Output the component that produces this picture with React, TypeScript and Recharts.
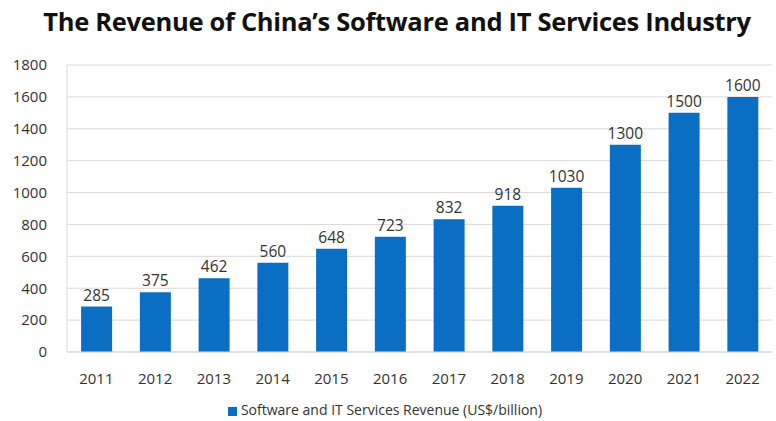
import { Bar, BarChart, CartesianGrid, LabelList, Legend, XAxis, YAxis } from "recharts";

const years = ["2011", "2012", "2013", "2014", "2015", "2016", "2017", "2018", "2019", "2020", "2021", "2022"];
const revenue = [285, 375, 462, 560, 648, 723, 832, 918, 1030, 1300, 1500, 1600];
const yTicks = [0, 200, 400, 600, 800, 1000, 1200, 1400, 1600, 1800];

const data = years.map((year, i) => ({ year, revenue: revenue[i] }));

const FONT = "'Open Sans', 'Noto Sans', sans-serif";

export default function App() {
  return (
    <div style={{ position: "absolute", left: 0, top: 0, width: 776, height: 421, background: "#fff", fontFamily: FONT }}>
      <div
        style={{
          position: "absolute",
          top: 4,
          left: 9,
          width: 776,
          textAlign: "center",
          fontSize: 25.5,
          fontWeight: 700,
          color: "#111",
          letterSpacing: "-0.3px",
        }}
      >
        The Revenue of China’s Software and IT Services Industry
      </div>
      <BarChart
        width={776}
        height={421}
        data={data}
        margin={{ top: 65, right: 4, bottom: 2, left: 8 }}
        barCategoryGap="24%"
      >
        <CartesianGrid vertical={false} stroke="#d9d9d9" />
        <XAxis
          dataKey="year"
          tickLine={false}
          axisLine={{ stroke: "#d9d9d9" }}
          tick={{ fill: "#333", fontSize: 15, fontFamily: FONT }}
          tickMargin={15}
          height={48}
        />
        <YAxis
          ticks={yTicks}
          domain={[0, 1800]}
          tickLine={false}
          axisLine={{ stroke: "#d9d9d9" }}
          tick={{ fill: "#333", fontSize: 15, fontFamily: FONT }}
          tickMargin={14}
          width={59}
        />
        <Legend
          verticalAlign="bottom"
          iconType="square"
          iconSize={9}
          wrapperStyle={{ fontSize: 14, fontFamily: FONT, color: "#333" }}
          formatter={(v) => <span style={{ color: "#333" }}>{v}</span>}
        />
        <Bar dataKey="revenue" name="Software and IT Services Revenue (US$/billion)" fill="#0a6fc2" isAnimationActive={false}>
          <LabelList dataKey="revenue" position="top" offset={6} style={{ fill: "#333", fontSize: 15.5, fontFamily: FONT }} />
        </Bar>
      </BarChart>
    </div>
  );
}
